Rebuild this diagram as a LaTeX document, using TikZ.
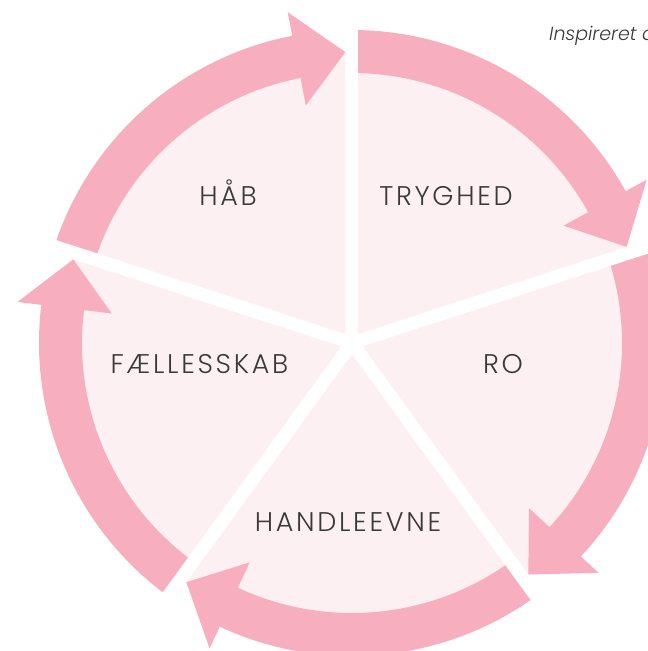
\documentclass[tikz,border=0pt]{standalone}
\usepackage{fontspec}
\setmainfont{Poppins}[UprightFont={* Light}, ItalicFont={* Light Italic}, LetterSpace=10]
\usepackage{tikz}
\usetikzlibrary{positioning,calc}

\definecolor{arrowpink}{RGB}{247,174,190}
\definecolor{palepink}{RGB}{253,240,243}
\definecolor{labelgray}{RGB}{58,58,58}

\begin{document}
\begin{tikzpicture}[
    x=1pt, y=1pt,
    ringarrow/.style={fill=arrowpink, draw=none},
    gapline/.style={draw=white, line width=13pt},
    label/.style={text=labelgray, font=\fontsize{27}{27}\selectfont, inner sep=0pt, anchor=base},
    credit/.style={text=labelgray, font=\addfontfeatures{LetterSpace=0}\itshape\fontsize{19}{19}\selectfont, inner sep=0pt, anchor=base west}
]
\useasboundingbox (-352,-308) rectangle (296,343);

% Pale disc
\fill[palepink] (0,0) circle[radius=292];

% Ring arrows (clockwise)
\fill[ringarrow] (90:313) arc[start angle=90, end angle=29, radius=313] -- (29:337) -- (19.3:291) -- (29:242) -- (29:270) arc[start angle=29, end angle=90, radius=270] -- cycle;
\fill[ringarrow] (18:313) arc[start angle=18, end angle=-43, radius=313] -- (-43:337) -- (-52.7:291) -- (-43:242) -- (-43:270) arc[start angle=-43, end angle=18, radius=270] -- cycle;
\fill[ringarrow] (-54:313) arc[start angle=-54, end angle=-115, radius=313] -- (-115:337) -- (-124.7:291) -- (-115:242) -- (-115:270) arc[start angle=-115, end angle=-54, radius=270] -- cycle;
\fill[ringarrow] (-126:313) arc[start angle=-126, end angle=-187, radius=313] -- (-187:337) -- (-196.7:291) -- (-187:242) -- (-187:270) arc[start angle=-187, end angle=-126, radius=270] -- cycle;
\fill[ringarrow] (162:313) arc[start angle=162, end angle=101, radius=313] -- (101:337) -- (91.3:291) -- (101:242) -- (101:270) arc[start angle=101, end angle=162, radius=270] -- cycle;

% White gaps between sectors
\coordinate (hub) at (0,0);
\draw[gapline] (hub) -- (90:360);
\draw[gapline] (hub) -- (18:360);
\draw[gapline] (hub) -- (-54:360);
\draw[gapline] (hub) -- (-126:360);
\draw[gapline] (hub) -- (162:360);

% Labels
\node[label] (hab) at (-124,138) {HÅB};
\node[label] (tryghed) at (94,138) {TRYGHED};
\node[label] (ro) at (151,-30) {RO};
\node[label] (faellesskab) at (-152.5,-30) {FÆLLESSKAB};
\node[label] (handleevne) at (-4,-188) {HANDLEEVNE};

% Credit line
\node[credit] (credit) at (197,302) {Inspireret a};

\end{tikzpicture}
\end{document}
